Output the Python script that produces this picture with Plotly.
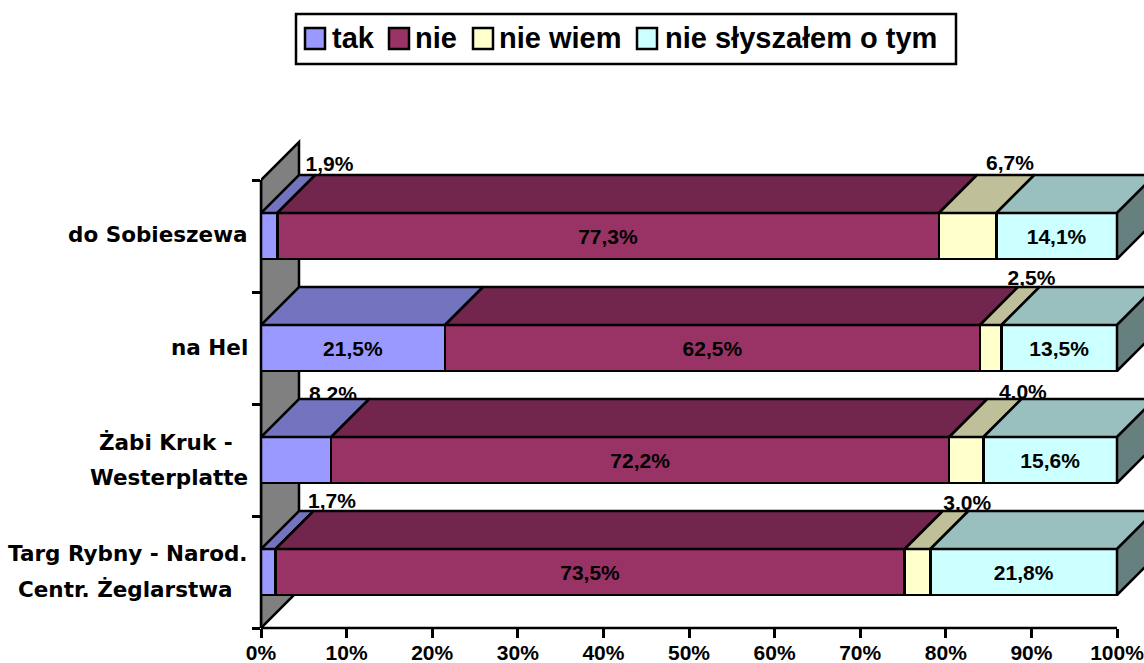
import plotly.graph_objects as go

# ---- data (bottom to top) ----
categories = ["Targ Rybny - Narod. Centr. Żeglarstwa", "Żabi Kruk - Westerplatte", "na Hel", "do Sobieszewa"]
series_names = ["tak", "nie", "nie wiem", "nie słyszałem o tym"]
tak = [1.7, 8.2, 21.5, 1.9]
nie = [73.5, 72.2, 62.5, 77.3]
nie_wiem = [3.0, 4.0, 2.5, 6.7]
nie_slyszalem = [21.8, 15.6, 13.5, 14.1]
x_ticks = [0, 10, 20, 30, 40, 50, 60, 70, 80, 90, 100]
x_ticklabels = [f"{t}%" for t in x_ticks]

# ---- styles ----
front_colors = ["#9999FF", "#993366", "#FFFFCC", "#CCFFFF"]
top_colors = ["#7373BF", "#73264D", "#BFBF99", "#99BFBF"]
side_color = "#668080"
wall_color = "#808080"
W, H = 1144, 663
L, R_edge, T, B = 261, 1144, 130, 628
PX_PER_PCT = 8.56
PX_PER_CAT = 112
DEPTH_X = 38 / PX_PER_PCT
DEPTH_Y = 38 / PX_PER_CAT
BAR_W = 46 / PX_PER_CAT
FONT = "Liberation Sans, Arial, sans-serif"
CAT_FONT = "DejaVu Sans, sans-serif"
INK = "#000000"
VALUE_SIZE = 21


def pap_x(px):
    return (px - L) / (R_edge - L)


def pap_y(py):
    return (B - py) / (B - T)


def fmt(v):
    return f"{v:.1f}".replace(".", ",") + "%"


all_series = [tak, nie, nie_wiem, nie_slyszalem]
y_pos = [i + 0.5 for i in range(len(categories))]

fig = go.Figure()

# outside labels of the small segments: (category, series, centre x in %, top-label y in px)
outside_labels = [(3, 0, 8.0, 166), (3, 2, 87.5, 165), (2, 2, 90.0, 280),
                  (1, 0, 8.4, 396), (1, 2, 89.0, 394), (0, 0, 8.3, 503), (0, 2, 82.5, 505)]
fig.add_trace(go.Scatter(
    x=[o[2] for o in outside_labels],
    y=[(B - o[3]) / PX_PER_CAT for o in outside_labels],
    text=[fmt(all_series[o[1]][o[0]]) for o in outside_labels],
    mode="text", textposition="middle center",
    textfont=dict(family=FONT, size=VALUE_SIZE, color=INK, weight="bold"),
    showlegend=False, hoverinfo="skip"))

# 3-D faces derived from the values
for ci, yc in enumerate(y_pos):
    y0, y1 = yc - BAR_W / 2, yc + BAR_W / 2
    start = 0.0
    for si, s in enumerate(all_series):
        end = start + s[ci]
        fig.add_trace(go.Scatter(
            x=[start, end, end + DEPTH_X, start + DEPTH_X, start],
            y=[y1, y1, y1 + DEPTH_Y, y1 + DEPTH_Y, y1],
            mode="lines", fill="toself", fillcolor=top_colors[si],
            line=dict(color=INK, width=2.5), showlegend=False, hoverinfo="skip"))
        start = end
    fig.add_trace(go.Scatter(
        x=[start, start + DEPTH_X, start + DEPTH_X, start, start],
        y=[y0, y0 + DEPTH_Y, y1 + DEPTH_Y, y1, y0],
        mode="lines", fill="toself", fillcolor=side_color,
        line=dict(color=INK, width=2.5), showlegend=False, hoverinfo="skip"))

# front faces
outside_keys = {(o[0], o[1]) for o in outside_labels}
for si, s in enumerate(all_series):
    fig.add_trace(go.Bar(
        y=y_pos, x=s, orientation="h", name=series_names[si], width=BAR_W,
        marker=dict(color=front_colors[si], line=dict(color=INK, width=2.5)),
        text=["" if (ci, si) in outside_keys else fmt(v) for ci, v in enumerate(s)],
        textposition="inside", insidetextanchor="middle", textangle=0,
        constraintext="none", cliponaxis=True,
        textfont=dict(family=FONT, size=VALUE_SIZE, color=INK, weight="bold"),
        showlegend=False))

n = len(categories)
shapes = [
    # grey side wall
    dict(type="path", xref="x", yref="y", layer="below",
         path=f"M 0 0 L {DEPTH_X} {DEPTH_Y} L {DEPTH_X} {n + DEPTH_Y} L 0 {n} Z",
         fillcolor=wall_color, line=dict(color=INK, width=2.5)),
    # value axis line
    dict(type="line", xref="x", yref="paper", x0=0, x1=100, y0=0, y1=0, layer="above",
         line=dict(color=INK, width=2.5)),
    # category axis line
    dict(type="line", xref="paper", yref="y", x0=0, x1=0, y0=0, y1=n, layer="above",
         line=dict(color=INK, width=2.5)),
    # legend frame
    dict(type="rect", xref="paper", yref="paper", x0=pap_x(296), x1=pap_x(956),
         y0=pap_y(64), y1=pap_y(14), fillcolor="#FFFFFF", line=dict(color=INK, width=2.5)),
]

annotations = []
# legend entries: swatch left px, text left px
legend_swatch_x = [305, 389, 473, 637]
legend_text_x = [330, 413, 497, 663]
for i, name in enumerate(series_names):
    shapes.append(dict(type="rect", xref="paper", yref="paper",
                       x0=pap_x(legend_swatch_x[i]), x1=pap_x(legend_swatch_x[i] + 20),
                       y0=pap_y(49), y1=pap_y(28), fillcolor=front_colors[i],
                       line=dict(color=INK, width=2.5)))
    annotations.append(dict(xref="paper", yref="paper", x=pap_x(legend_text_x[i]), y=pap_y(38),
                            xanchor="left", yanchor="middle", showarrow=False, text=f"<b>{name}</b>",
                            font=dict(family=FONT, size=29, color=INK)))

# category labels: line text, right edge px, centre y px
cat_lines = [("do Sobieszewa", 250, 235), ("na Hel", 250, 347),
             ("Żabi Kruk -", 235, 442), ("Westerplatte", 250, 477),
             ("Targ Rybny - Narod.", 250, 553), ("Centr. Żeglarstwa", 235, 589)]
for txt, rx, cy in cat_lines:
    annotations.append(dict(xref="paper", yref="paper", x=pap_x(rx), y=pap_y(cy),
                            xanchor="right", yanchor="middle", showarrow=False,
                            text=f"<b>{txt}</b>", font=dict(family=CAT_FONT, size=21.5, color=INK)))

fig.update_layout(
    width=W, height=H, autosize=False,
    margin=dict(l=L, r=W - R_edge, t=T, b=H - B, pad=0),
    paper_bgcolor="#FFFFFF", plot_bgcolor="#FFFFFF",
    barmode="stack", showlegend=False,
    shapes=shapes, annotations=annotations,
    xaxis=dict(range=[0, (R_edge - L) / PX_PER_PCT], tickvals=x_ticks, ticktext=x_ticklabels,
               ticks="outside", ticklen=9, tickwidth=2.5, tickcolor=INK, automargin=False,
               ticklabeloverflow="allow", ticklabelstandoff=-3,
               tickfont=dict(family=FONT, size=VALUE_SIZE, color=INK, weight="bold"),
               showgrid=False, zeroline=False, showline=False),
    yaxis=dict(range=[0, (B - T) / PX_PER_CAT], tickvals=list(range(n + 1)),
               ticks="outside", ticklen=8, tickwidth=2.5, tickcolor=INK, automargin=False,
               showticklabels=False, showgrid=False, zeroline=False, showline=False),
)

fig.write_html("out.html", config={"displayModeBar": False},
               post_script="document.body.style.margin='0';document.body.style.overflow='hidden';")
